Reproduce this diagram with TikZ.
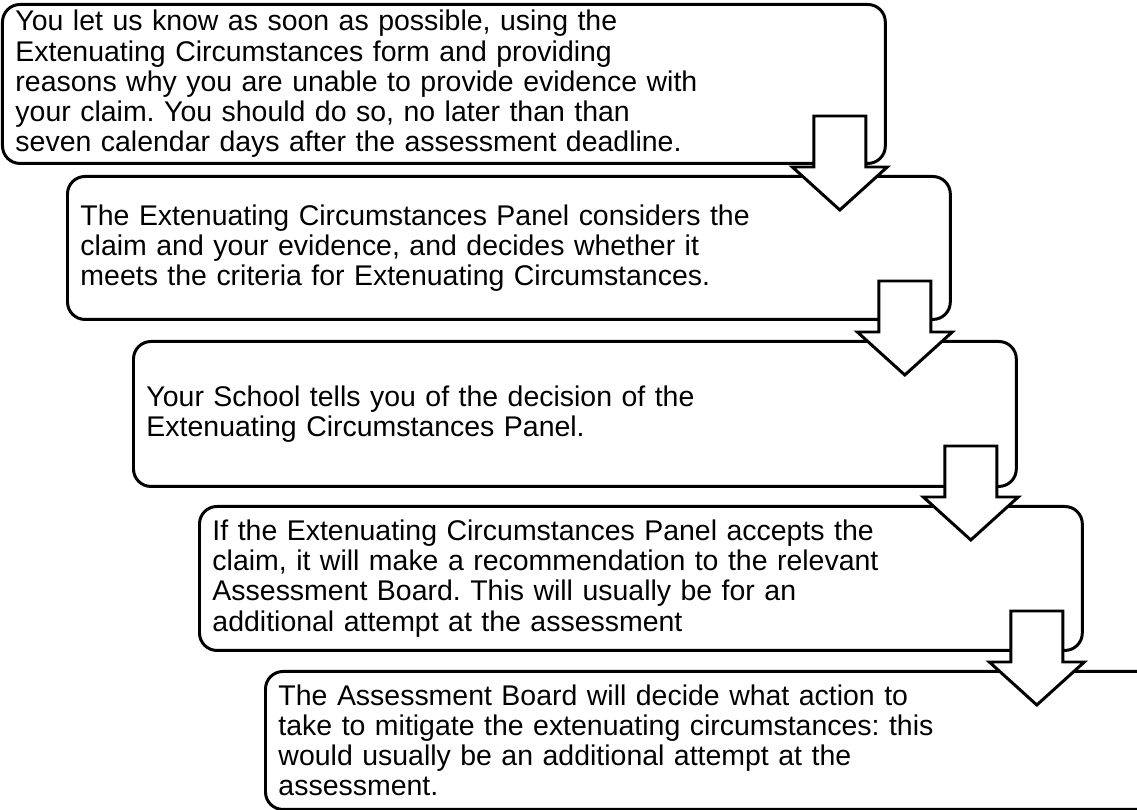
\documentclass[tikz,border=0pt]{standalone}
\usepackage{fontspec}
\setmainfont{Liberation Sans}
\usepackage{tikz}
\usetikzlibrary{calc}
\frenchspacing

\begin{document}
\begin{tikzpicture}[
    x=0.02cm, y=-0.02cm,
    font=\fontsize{16.2pt}{17.2pt}\selectfont,
    % step boxes (same width, shifted right each time)
    stepbox/.style={draw, line width=1.7pt, rounded corners=0.35cm, fill=white,
                    anchor=north west, align=left, inner xsep=0.26cm, inner ysep=0pt,
                    minimum width=17.66cm, text width=17.14cm},
    blockarrow/.style={draw, line width=1.7pt, fill=white, line join=miter},
]
\useasboundingbox (0,0) rectangle (1137,810);

% -------------------------
% Steps of the claim
% -------------------------
\node[stepbox, minimum height=3.18cm] (box1) at (1,3) {You let us know as soon as possible, using the\\
Extenuating Circumstances form and providing\\
reasons why you are unable to provide evidence with\\
your claim. You should do so, no later than than\\
seven calendar days after the assessment deadline.};

\node[stepbox, minimum height=2.86cm] (box2) at (66,175) {The Extenuating Circumstances Panel considers the\\
claim and your evidence, and decides whether it\\
meets the criteria for Extenuating Circumstances.};

\node[stepbox, minimum height=2.9cm] (box3) at (132,340) {Your School tells you of the decision of the\\
Extenuating Circumstances Panel.};

\node[stepbox, minimum height=2.88cm] (box4) at (198,505) {If the Extenuating Circumstances Panel accepts the\\
claim, it will make a recommendation to the relevant\\
Assessment Board. This will usually be for an\\
additional attempt at the assessment};

% last box runs past the right edge
\node[stepbox, minimum height=2.76cm, minimum width=17.9cm, text width=17.38cm] (box5) at (264,670) {The Assessment Board will decide what action to\\
take to mitigate the extenuating circumstances: this\\
would usually be an additional attempt at the\\
assessment.};

% -------------------------
% Down arrows between the steps
% -------------------------
\foreach \a/\b in {box1/box2, box2/box3, box3/box4, box4/box5}{
  \coordinate (tip) at ($(\a.east |- \b.north)+(-47,35)$);
  \draw[blockarrow] (tip) -- ++(-47.5,-43) -- ++(21.5,0) -- ++(0,-51)
    -- ++(52,0) -- ++(0,51) -- ++(21.5,0) -- cycle;
}

\end{tikzpicture}
\end{document}
